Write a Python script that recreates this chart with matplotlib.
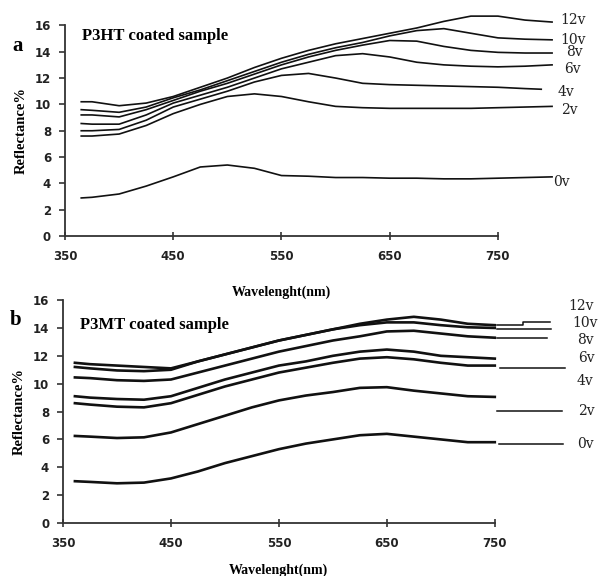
import matplotlib
matplotlib.use('Agg')
import matplotlib.pyplot as plt

# panel a: P3HT coated sample
wl_a = [365, 375, 400, 425, 450, 475, 500, 525, 550, 575, 600, 625, 650, 675, 700, 725, 750, 775, 800]
wl_a_4v = [365, 375, 400, 425, 450, 475, 500, 525, 550, 575, 600, 625, 650, 675, 700, 725, 750, 775, 790]
a_0v = [2.9, 2.95, 3.2, 3.8, 4.5, 5.25, 5.4, 5.15, 4.6, 4.55, 4.45, 4.45, 4.4, 4.4, 4.35, 4.35, 4.4, 4.45, 4.5]
a_2v = [7.6, 7.6, 7.75, 8.4, 9.3, 10.0, 10.6, 10.8, 10.6, 10.2, 9.85, 9.75, 9.7, 9.7, 9.7, 9.7, 9.75, 9.8, 9.85]
a_4v = [8.0, 8.0, 8.1, 8.8, 9.8, 10.4, 11.0, 11.7, 12.2, 12.35, 12.0, 11.6, 11.5, 11.45, 11.4, 11.35, 11.3, 11.2, 11.15]
a_6v = [8.55, 8.5, 8.5, 9.2, 10.1, 10.7, 11.3, 12.0, 12.7, 13.2, 13.7, 13.85, 13.6, 13.2, 13.0, 12.9, 12.85, 12.9, 13.0]
a_8v = [9.2, 9.2, 9.05, 9.6, 10.3, 11.0, 11.6, 12.3, 13.0, 13.6, 14.1, 14.5, 14.85, 14.8, 14.4, 14.1, 13.95, 13.9, 13.9]
a_10v = [9.6, 9.55, 9.4, 9.8, 10.5, 11.1, 11.8, 12.5, 13.2, 13.8, 14.3, 14.7, 15.2, 15.6, 15.75, 15.4, 15.05, 14.95, 14.9]
a_12v = [10.2, 10.2, 9.9, 10.1, 10.6, 11.3, 12.0, 12.8, 13.5, 14.1, 14.6, 15.0, 15.4, 15.8, 16.3, 16.7, 16.7, 16.4, 16.25]
labels_a = ['12v', '10v', '8v', '6v', '4v', '2v', '0v']
label_a_x = [808, 808, 813, 811, 805, 808, 801]
label_a_y = [16.4, 14.9, 13.95, 12.65, 10.95, 9.55, 4.1]

# panel b: P3MT coated sample
wl_b = [361, 375, 400, 425, 450, 475, 500, 525, 550, 575, 600, 625, 650, 675, 700, 725, 750]
b_0v = [3.0, 2.95, 2.85, 2.9, 3.2, 3.7, 4.3, 4.8, 5.3, 5.7, 6.0, 6.3, 6.4, 6.2, 6.0, 5.8, 5.8]
b_2v = [6.25, 6.2, 6.1, 6.15, 6.5, 7.1, 7.7, 8.3, 8.8, 9.15, 9.4, 9.7, 9.75, 9.5, 9.3, 9.1, 9.05]
b_4v = [8.6, 8.5, 8.35, 8.3, 8.6, 9.2, 9.8, 10.3, 10.8, 11.15, 11.5, 11.8, 11.9, 11.75, 11.5, 11.3, 11.3]
b_6v = [9.1, 9.0, 8.9, 8.85, 9.1, 9.7, 10.3, 10.8, 11.3, 11.6, 12.0, 12.3, 12.45, 12.3, 12.0, 11.9, 11.8]
b_8v = [10.45, 10.4, 10.25, 10.2, 10.3, 10.8, 11.3, 11.8, 12.3, 12.7, 13.1, 13.4, 13.75, 13.8, 13.6, 13.4, 13.3]
b_10v = [11.2, 11.1, 10.95, 10.9, 11.0, 11.6, 12.1, 12.6, 13.1, 13.5, 13.9, 14.2, 14.4, 14.4, 14.2, 14.05, 14.0]
b_12v = [11.5, 11.4, 11.3, 11.2, 11.1, 11.6, 12.1, 12.6, 13.1, 13.5, 13.9, 14.3, 14.6, 14.8, 14.6, 14.3, 14.2]
labels_b = ['12v', '10v', '8v', '6v', '4v', '2v', '0v']
label_b_x = [818, 822, 826, 827, 826, 827, 826]
label_b_y = [15.6, 14.35, 13.1, 11.85, 10.2, 8.05, 5.65]
# short marker lines to the right of panel b
mark_x = [[752, 776, 776, 801], [752, 802], [752, 798], [755, 815], [752, 812], [754, 813]]
mark_y = [[14.2, 14.2, 14.4, 14.4], [13.9, 13.9], [13.3, 13.3], [11.1, 11.1], [8.05, 8.05], [5.65, 5.65]]

xticks = [350, 450, 550, 650, 750]
yticks = [0, 2, 4, 6, 8, 10, 12, 14, 16]

fig = plt.figure(figsize=(5.98, 5.76), dpi=100)
ax1 = fig.add_axes([0.1087, 0.590, 0.724, 0.366])
ax2 = fig.add_axes([0.1054, 0.092, 0.722, 0.387])


def style(ax, xpad):
    ax.set_xlim(350, 750)
    ax.set_ylim(0, 16)
    ax.set_xticks(xticks)
    ax.set_yticks(yticks)
    ax.spines['top'].set_visible(False)
    ax.spines['right'].set_visible(False)
    for s in ['left', 'bottom']:
        ax.spines[s].set_linewidth(1.3)
        ax.spines[s].set_color('#333333')
    ax.tick_params(axis='y', direction='out', length=4, width=1.2, color='#333333', pad=6)
    ax.tick_params(axis='x', direction='inout', length=6, width=1.2, color='#333333', pad=7)
    for t in ax.get_xticklabels() + ax.get_yticklabels():
        t.set_fontfamily('DejaVu Sans')
        t.set_fontweight('bold')
        t.set_fontsize(8.5)
        t.set_color('#222222')
    ax.set_ylabel('Reflectance%', fontfamily='Liberation Serif', fontweight='bold', fontsize=10.5, labelpad=5)
    ax.set_xlabel('Wavelenght(nm)', fontfamily='Liberation Serif', fontweight='bold', fontsize=10, labelpad=xpad)


style(ax1, 16)
style(ax2, 10)

for y in [a_0v, a_2v, a_6v, a_8v, a_10v, a_12v]:
    ax1.plot(wl_a, y, color='#111111', lw=1.2, clip_on=False)
ax1.plot(wl_a_4v, a_4v, color='#111111', lw=1.2, clip_on=False)
for lab, x, y in zip(labels_a, label_a_x, label_a_y):
    ax1.text(x, y, lab, fontfamily='DejaVu Serif', fontsize=10, ha='left', va='center', color='#222222')
ax1.text(0.04, 0.95, 'P3HT coated sample', transform=ax1.transAxes, fontfamily='Liberation Serif',
         fontweight='bold', fontsize=12, ha='left', va='center')
fig.text(0.02, 0.92, 'a', fontfamily='Liberation Serif', fontweight='bold', fontsize=15, ha='left', va='center')

for y in [b_0v, b_2v, b_4v, b_6v, b_8v, b_10v, b_12v]:
    ax2.plot(wl_b, y, color='#111111', lw=1.9, clip_on=False)
for mx, my in zip(mark_x, mark_y):
    ax2.plot(mx, my, color='#111111', lw=1.1, clip_on=False)
for lab, x, y in zip(labels_b, label_b_x, label_b_y):
    ax2.text(x, y, lab, fontfamily='DejaVu Serif', fontsize=10, ha='left', va='center', color='#222222')
ax2.text(0.04, 0.89, 'P3MT coated sample', transform=ax2.transAxes, fontfamily='Liberation Serif',
         fontweight='bold', fontsize=12, ha='left', va='center')
fig.text(0.017, 0.445, 'b', fontfamily='Liberation Serif', fontweight='bold', fontsize=15, ha='left', va='center')

plt.savefig('out.png', dpi=100)
